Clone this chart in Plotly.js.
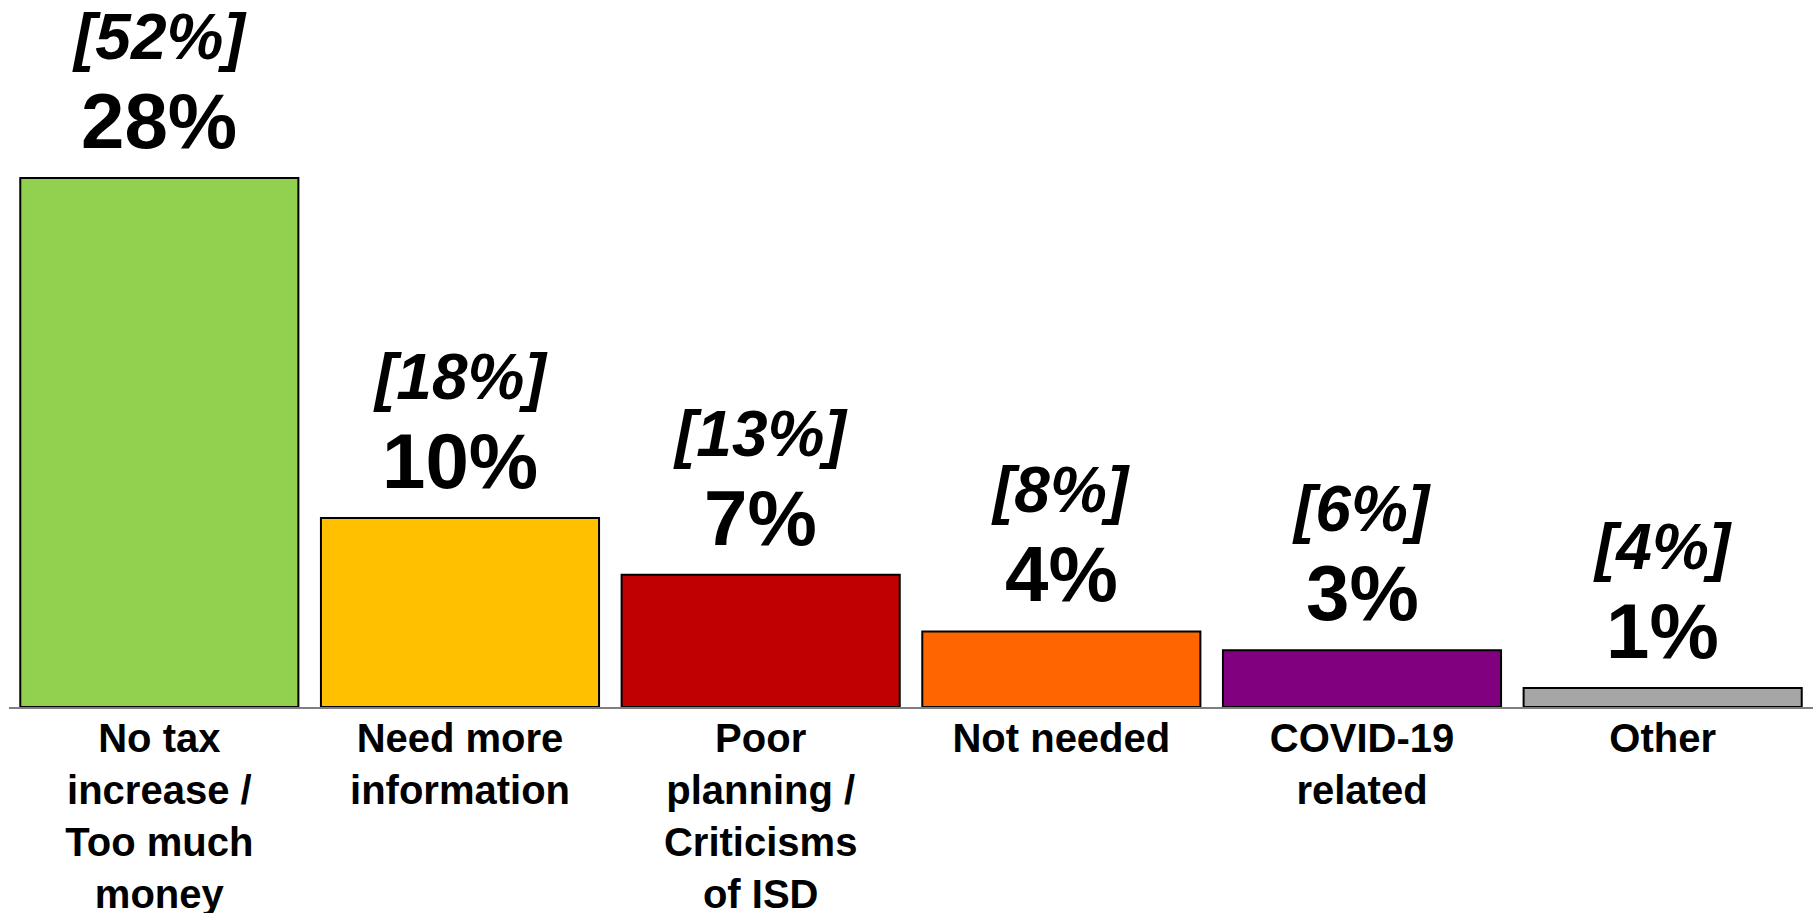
<!DOCTYPE html>
<html>
<head>
<meta charset="utf-8">
<script src="https://cdn.plot.ly/plotly-3.0.1.min.js"></script>
<style>html,body{margin:0;padding:0;background:#fff;}#chart{width:1815px;height:913px;}</style>
</head>
<body>
<div id="chart"></div>
<script>
const categories = ["No tax<br>increase /<br>Too much<br>money", "Need more<br>information", "Poor<br>planning /<br>Criticisms<br>of ISD", "Not needed", "COVID-19<br>related", "Other"];
const values = [28, 10, 7, 4, 3, 1];
const bracketValues = [52, 18, 13, 8, 6, 4];
const colors = ["#92D050", "#FFC000", "#C00000", "#FF6600", "#800080", "#A6A6A6"];

const FONT = "Liberation Sans, Arial, sans-serif";

const trace = {
  type: "bar",
  x: categories,
  y: values,
  marker: {color: colors, line: {color: "#000000", width: 2}},
  hoverinfo: "none"
};

const annotations = [];
categories.forEach((c, i) => {
  annotations.push({
    x: c, y: values[i], xref: "x", yref: "y",
    yanchor: "bottom", xanchor: "center", showarrow: false,
    text: "<b>" + values[i] + "%</b>",
    font: {family: FONT, size: 78, color: "#000"},
    yshift: 11
  });
  annotations.push({
    x: c, y: values[i], xref: "x", yref: "y",
    yanchor: "bottom", xanchor: "center", showarrow: false,
    text: "<b><i>[" + bracketValues[i] + "%]</i></b>",
    font: {family: FONT, size: 64, color: "#000"},
    yshift: 103
  });
});

const layout = {
  width: 1815, height: 913,
  margin: {l: 9, r: 2, t: 0, b: 206, pad: 0},
  paper_bgcolor: "#fff", plot_bgcolor: "#fff",
  bargap: 0.075,
  showlegend: false,
  xaxis: {
    type: "category",
    range: [-0.5, 5.5],
    showline: true, linecolor: "#7f7f7f", linewidth: 2,
    ticks: "", showgrid: false, zeroline: false,
    tickfont: {family: FONT, size: 40, color: "#000", weight: "bold"},
    tickangle: 0,
    ticklabelstandoff: -5
  },
  yaxis: {
    range: [0, 37.42],
    visible: false, showgrid: false, zeroline: false
  },
  annotations: annotations
};

Plotly.newPlot("chart", [trace], layout, {staticPlot: true});
</script>
</body>
</html>
